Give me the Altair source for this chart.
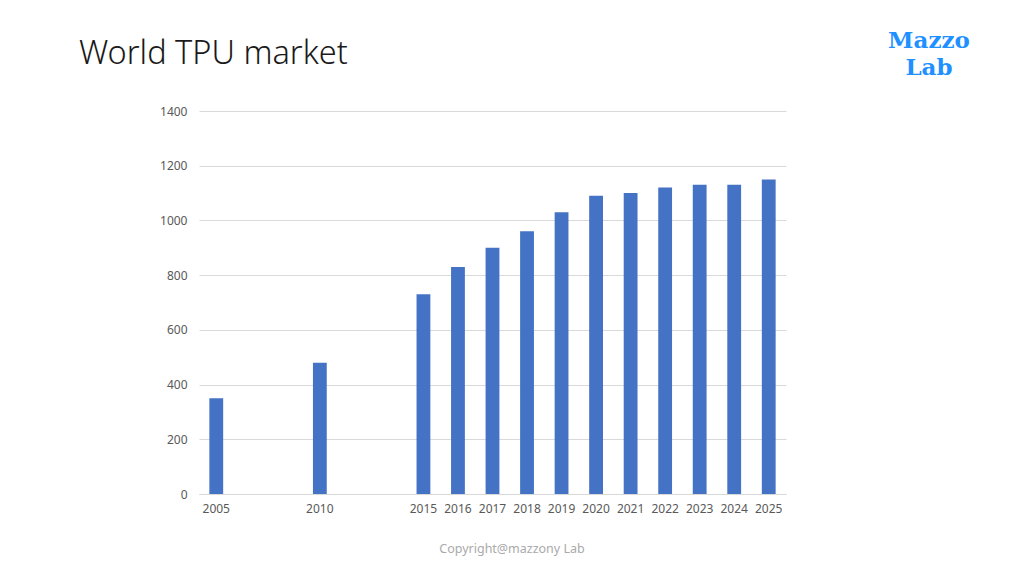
import altair as alt
import pandas as pd

years = ["2005", "2010", "2015", "2016", "2017", "2018", "2019", "2020",
         "2021", "2022", "2023", "2024", "2025"]
values = [350, 480, 730, 830, 900, 960, 1030, 1090, 1100, 1120, 1130, 1130, 1150]
# x slots: blank gaps between 2005, 2010 and 2015 as in the original
slots = ["2005", " ", "  ", "2010", "   ", "    ", "2015", "2016", "2017", "2018",
         "2019", "2020", "2021", "2022", "2023", "2024", "2025"]
y_ticks = [0, 200, 400, 600, 800, 1000, 1200, 1400]

title_text = "World TPU market"
logo_top = "Mazzo"
logo_bottom = "Lab"
footer_text = "Copyright@mazzony Lab"

df = pd.DataFrame({"year": years, "value": values})

W, H = 587, 383
FONT = "Noto Sans"

bars = alt.Chart(df).mark_bar(color="#4472C4").encode(
    x=alt.X("year:N", sort=None,
            scale=alt.Scale(domain=slots, paddingInner=0.6, paddingOuter=0.3),
            axis=alt.Axis(title=None, labelAngle=0, ticks=False, domain=True,
                          domainColor="#D9D9D9", labelColor="#595959",
                          labelFontSize=12, labelFont=FONT, labelPadding=9)),
    y=alt.Y("value:Q",
            scale=alt.Scale(domain=[0, 1400], nice=False),
            axis=alt.Axis(title=None, values=y_ticks, ticks=False, domain=False,
                          format="d", gridColor="#D9D9D9", labelColor="#595959",
                          labelFontSize=12, labelFont=FONT, labelPadding=12)),
)


def label(text, x, y, **kw):
    return alt.Chart(pd.DataFrame({"t": [text]})).mark_text(
        baseline="alphabetic", **kw
    ).encode(x=alt.value(x - 199), y=alt.value(y - 111), text="t:N")


title = label(title_text, 79, 64, align="left", fontSize=32.5, font=FONT,
              fontWeight=300, color="#1a1a1a")
logo1 = label(logo_top, 929, 48, align="center", fontSize=23, font="DejaVu Serif",
              fontWeight="bold", color="#1E90FF")
logo2 = label(logo_bottom, 929, 75, align="center", fontSize=23, font="DejaVu Serif",
              fontWeight="bold", color="#1E90FF")
footer = label(footer_text, 512, 553, align="center", fontSize=12.5, font=FONT,
               color="#AAAAAA")

chart = alt.layer(bars, title, logo1, logo2, footer).properties(
    width=W, height=H,
    background="white",
    autosize=alt.AutoSizeParams(type="none"),
    padding={"left": 191, "top": 103, "right": 1008 - 191 - W, "bottom": 560 - 103 - H},
).configure_view(stroke=None, strokeWidth=0)

chart.save("out.html", embed_options={"renderer": "svg", "actions": False})
